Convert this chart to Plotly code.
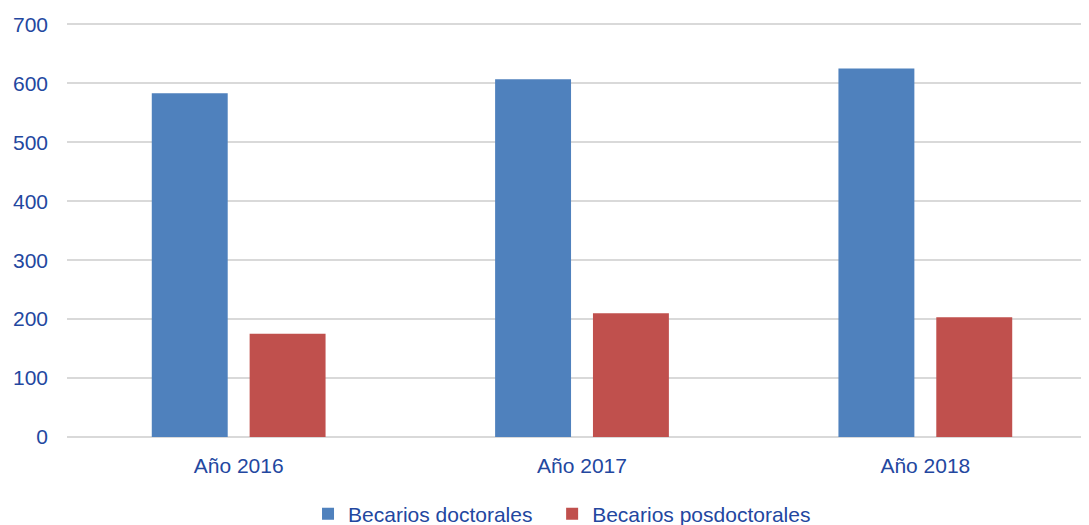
import plotly.graph_objects as go

categories = ["Año 2016", "Año 2017", "Año 2018"]
doctorales = [583, 607, 625]
posdoctorales = [175, 210, 203]
y_ticks = [0, 100, 200, 300, 400, 500, 600, 700]

text_color = "#23479F"
font_family = "Liberation Sans, Arial, sans-serif"

fig = go.Figure()
fig.add_trace(go.Bar(x=categories, y=doctorales, name="Becarios doctorales",
                     marker=dict(color="#4F81BD", line=dict(width=0)), legend="legend"))
fig.add_trace(go.Bar(x=categories, y=posdoctorales, name="Becarios posdoctorales",
                     marker=dict(color="#C0504D", line=dict(width=0)), legend="legend2"))

leg_common = dict(orientation="h", xanchor="left", yref="container", y=0.036,
                  yanchor="middle", font=dict(size=21, color=text_color), itemwidth=30,
                  bgcolor="rgba(0,0,0,0)")

fig.update_layout(
    width=1089, height=525,
    margin=dict(l=59, r=0, t=14, b=96, autoexpand=False),
    paper_bgcolor="white", plot_bgcolor="white",
    barmode="group", bargap=0.43, bargroupgap=0.224,
    font=dict(family=font_family, size=21, color=text_color),
    showlegend=True,
    legend=dict(x=0.234, **leg_common),
    legend2=dict(x=0.471, **leg_common),
    xaxis=dict(range=[-0.5, 2.5], showgrid=False, showline=False, zeroline=False,
               automargin=False,
               ticks="", ticklabelstandoff=14, tickfont=dict(size=21, color=text_color)),
    yaxis=dict(range=[0, 704], tickvals=y_ticks, showgrid=True, gridcolor="#D9D9D9",
               gridwidth=1.5, zeroline=True, zerolinecolor="#D9D9D9", zerolinewidth=1.5,
               showline=False, ticks="", ticklabelstandoff=18, automargin=False,
               tickfont=dict(size=21, color=text_color)),
)

fig.write_html("out.html")
